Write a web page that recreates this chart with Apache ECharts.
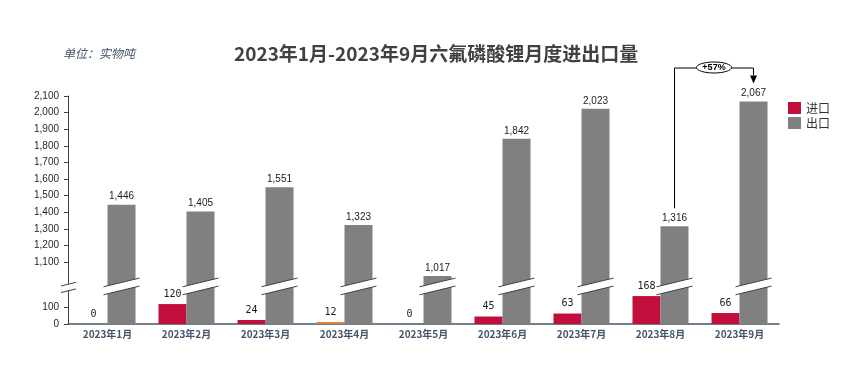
<!DOCTYPE html>
<html>
<head>
<meta charset="utf-8">
<script src="https://cdn.jsdelivr.net/npm/echarts@6/dist/echarts.min.js"></script>
<style>
html,body{margin:0;padding:0;background:#fff;}
#chart{width:847px;height:382px;}
</style>
</head>
<body>
<div id="chart"></div>
<script>
// ---- data ----
const categories = ['2023年1月','2023年2月','2023年3月','2023年4月','2023年5月','2023年6月','2023年7月','2023年8月','2023年9月'];
const importValues = [0, 120, 24, 12, 0, 45, 63, 168, 66];
const exportValues = [1446, 1405, 1551, 1323, 1017, 1842, 2023, 1316, 2067];
const lowerTicks = [0, 100];
const upperTicks = [1100, 1200, 1300, 1400, 1500, 1600, 1700, 1800, 1900, 2000, 2100];
const seriesNames = ['进口', '出口'];
const annotateFrom = 7, annotateTo = 8;

// ---- styling / layout constants ----
const AXIS_OFFSET = 728;      // amount of value axis cut out by the break
const BREAK_CUT = 1000;       // values at/above this are drawn in the upper part
const BREAK_POS = 226;        // folded-axis position of the break marks
const BAR_W = 28;
const RED = '#C10E3B', GREY = '#808080', ORANGE = '#ED7D31';
const itemColors = {3: ORANGE};

const fold = v => (v >= BREAK_CUT ? v - AXIS_OFFSET : v);
const unfold = v => (v >= BREAK_CUT - AXIS_OFFSET ? v + AXIS_OFFSET : v);
const fmt = v => Math.round(v).toLocaleString('en-US');

const tickValues = lowerTicks.concat(upperTicks).map(fold);

function renderBreak(params, api) {
  const c = api.coord([api.value(0), api.value(1)]);
  const xc = c[0] + BAR_W / 2, yc = c[1];
  const hw = BAR_W / 2 + 4, s = 4.35, g = 4;
  const lineStyle = {stroke: '#404040', lineWidth: 1};
  const children = [
    {type: 'polygon', shape: {points: [[xc - hw, yc + s - g], [xc + hw, yc - s - g], [xc + hw, yc - s + g], [xc - hw, yc + s + g]]}, style: {fill: '#fff'}},
    {type: 'line', shape: {x1: xc - hw, y1: yc + s - g, x2: xc + hw, y2: yc - s - g}, style: lineStyle},
    {type: 'line', shape: {x1: xc - hw, y1: yc + s + g, x2: xc + hw, y2: yc - s + g}, style: lineStyle}
  ];
  if (params.dataIndex === 0) {
    const ax = params.coordSys.x + 0.5, ay = yc + 1, ahw = 7.5, as = 1.8, ag = 3.3;
    children.push(
      {type: 'polygon', shape: {points: [[ax - ahw, ay + as - ag], [ax + ahw, ay - as - ag], [ax + ahw, ay - as + ag], [ax - ahw, ay + as + ag]]}, style: {fill: '#fff'}},
      {type: 'line', shape: {x1: ax - ahw, y1: ay + as - ag, x2: ax + ahw, y2: ay - as - ag}, style: lineStyle},
      {type: 'line', shape: {x1: ax - ahw, y1: ay + as + ag, x2: ax + ahw, y2: ay - as + ag}, style: lineStyle}
    );
  }
  return {type: 'group', children};
}

function renderAnnotation(params, api) {
  const p1 = api.coord([api.value(0), api.value(1)]);
  const p2 = api.coord([api.value(2), api.value(3)]);
  const x1 = p1[0] + BAR_W / 2, x2 = p2[0] + BAR_W / 2;
  const yTop = params.coordSys.y - 28;
  const tipY = p2[1] - 18, headH = 8, headW = 3.5;
  const mx = (x1 + x2) / 2;
  const pct = (exportValues[annotateTo] - exportValues[annotateFrom]) / exportValues[annotateFrom] * 100;
  const st = {stroke: '#000', lineWidth: 1, fill: null};
  return {type: 'group', children: [
    {type: 'polyline', shape: {points: [[x1, p1[1] - 18], [x1, yTop], [x2, yTop], [x2, tipY - headH]]}, style: st},
    {type: 'polygon', shape: {points: [[x2 - headW, tipY - headH], [x2 + headW, tipY - headH], [x2, tipY]]}, style: {fill: '#000'}},
    {type: 'ellipse', shape: {cx: mx, cy: yTop - 0.5, rx: 17.5, ry: 5.5}, style: {fill: '#fff', stroke: '#000', lineWidth: 1}},
    {type: 'text', style: {text: '+' + Math.round(pct) + '%', x: mx, y: yTop, align: 'center', verticalAlign: 'middle', font: 'bold 9px "Liberation Sans", Arial, sans-serif', fill: '#000'}}
  ]};
}

const chart = echarts.init(document.getElementById('chart'), null, {renderer: 'canvas'});
chart.setOption({
  animation: false,
  backgroundColor: '#fff',
  title: [
    {text: '2023年1月-2023年9月六氟磷酸锂月度进出口量', left: 229, top: 39,
     textStyle: {fontSize: 19, fontWeight: 'bold', color: '#404040', fontFamily: '"Noto Sans CJK SC", "Noto Sans", sans-serif'}},
    {text: '单位：实物吨', left: 58, top: 42,
     textStyle: {fontSize: 12, fontWeight: 'normal', fontStyle: 'italic', color: '#44546A', fontFamily: '"Noto Sans CJK SC", sans-serif'}}
  ],
  legend: {
    data: seriesNames, orient: 'vertical', left: 783, top: 97,
    itemWidth: 13, itemHeight: 12, itemGap: 3,
    textStyle: {fontSize: 12, color: '#333', fontFamily: '"Noto Sans CJK SC", sans-serif'},
    icon: 'rect'
  },
  grid: {left: 68, right: 68, top: 96, bottom: 58, containLabel: false},
  xAxis: {
    type: 'category', data: categories,
    axisTick: {show: false},
    axisLine: {lineStyle: {color: '#44546A', width: 1.5}},
    axisLabel: {fontSize: 10, fontWeight: 'bold', color: '#44546A', margin: 5,
      fontFamily: '"Noto Sans CJK SC", sans-serif', interval: 0}
  },
  yAxis: {
    type: 'value', min: 0, max: fold(2100),
    splitLine: {show: false},
    axisLine: {show: true, lineStyle: {color: '#404040', width: 1}},
    axisTick: {show: true, length: 4, customValues: tickValues, lineStyle: {color: '#404040'}},
    axisLabel: {customValues: tickValues, fontSize: 10, color: '#262626', margin: 9,
      fontFamily: '"Liberation Sans", Arial, sans-serif',
      formatter: v => fmt(unfold(v))}
  },
  series: [
    {
      name: seriesNames[0], type: 'bar', barWidth: BAR_W, barGap: '0%',
      itemStyle: {color: RED},
      data: importValues.map((v, i) => itemColors[i] ? {value: fold(v), itemStyle: {color: itemColors[i]}} : fold(v)),
      label: {show: true, position: 'top', distance: 5, fontSize: 10, color: '#1a1a1a',
        fontFamily: '"DejaVu Sans Mono", monospace',
        formatter: p => fmt(importValues[p.dataIndex])}
    },
    {
      name: seriesNames[1], type: 'bar', barWidth: BAR_W, barGap: '0%',
      itemStyle: {color: GREY},
      data: exportValues.map(fold),
      label: {show: true, position: 'top', distance: 3, fontSize: 10, color: '#1a1a1a',
        fontFamily: '"Liberation Sans", Arial, sans-serif',
        formatter: p => fmt(exportValues[p.dataIndex])}
    },
    {
      name: 'break', type: 'custom', z: 5, clip: false, silent: true,
      renderItem: renderBreak,
      encode: {x: 0, y: 1},
      data: categories.map((c, i) => [i, BREAK_POS])
    },
    {
      name: 'change', type: 'custom', z: 6, clip: false, silent: true,
      renderItem: renderAnnotation,
      encode: {x: 0, y: 1},
      data: [[annotateFrom, fold(exportValues[annotateFrom]), annotateTo, fold(exportValues[annotateTo])]]
    }
  ]
});
</script>
</body>
</html>
